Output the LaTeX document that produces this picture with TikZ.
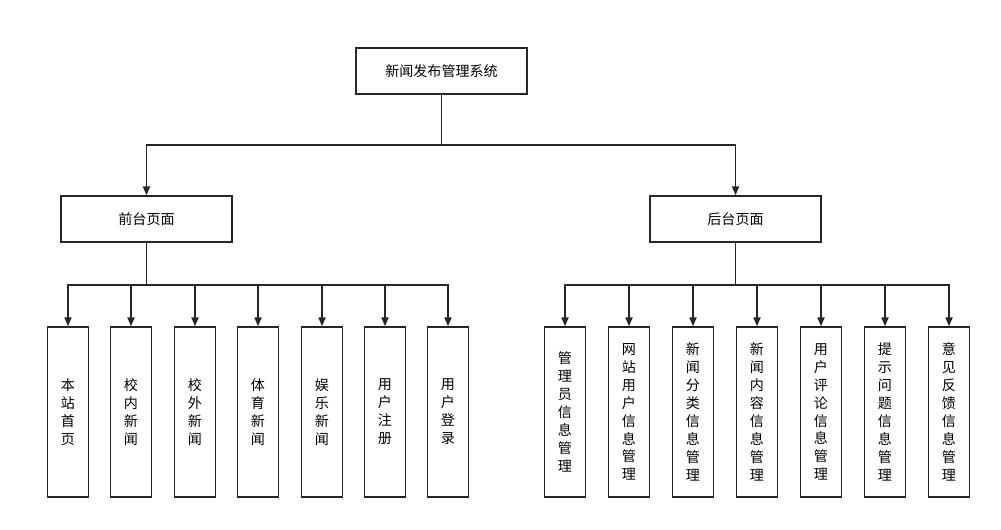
\documentclass[tikz,border=0pt]{standalone}
\usepackage{fontspec}
\setmainfont{Noto Sans CJK SC}
\usetikzlibrary{arrows.meta}
\begin{document}
\begin{tikzpicture}[x=0.02cm,y=-0.02cm,
  box/.style={draw=black!85,line width=0.9pt,inner sep=0pt,font=\fontsize{8}{10.2}\selectfont},
  wide/.style={box,minimum width=3.42cm,minimum height=0.92cm},
  tall/.style={box,minimum width=0.82cm,minimum height=3.4cm,align=center},
  conn/.style={draw=black!85,line width=0.9pt},
  arr/.style={conn,-{Triangle[length=5pt,width=4pt]}}]
\useasboundingbox (0,0) rectangle (1001,530);
\node[wide] (top) at (441.5,71) {新闻发布管理系统};
\node[wide] (f) at (146.5,219) {前台页面};
\node[wide] (b) at (735.5,219) {后台页面};
\coordinate (t1) at (441.5,145);
\draw[conn] (top.south) -- (t1);
\draw[arr] (t1) -| (f.north);
\draw[arr] (t1) -| (b.north);
\coordinate (fb) at (146.5,285);
\coordinate (bb) at (735.5,285);
\draw[conn] (f.south) -- (fb);
\draw[conn] (b.south) -- (bb);
\foreach \x/\t [count=\i] in {68/本\\站\\首\\页,131/校\\内\\新\\闻,195/校\\外\\新\\闻,258/体\\育\\新\\闻,322/娱\\乐\\新\\闻,385/用\\户\\注\\册,448/用\\户\\登\\录}{
  \node[tall] (l\i) at (\x,412) {\t};
  \draw[arr] (fb) -| (l\i.north);
}
\foreach \x/\t [count=\i] in {565/管\\理\\员\\信\\息\\管\\理,629/网\\站\\用\\户\\信\\息\\管\\理,693/新\\闻\\分\\类\\信\\息\\管\\理,757/新\\闻\\内\\容\\信\\息\\管\\理,821/用\\户\\评\\论\\信\\息\\管\\理,885/提\\示\\问\\题\\信\\息\\管\\理,949/意\\见\\反\\馈\\信\\息\\管\\理}{
  \node[tall] (r\i) at (\x,412) {\t};
  \draw[arr] (bb) -| (r\i.north);
}
\end{tikzpicture}
\end{document}
